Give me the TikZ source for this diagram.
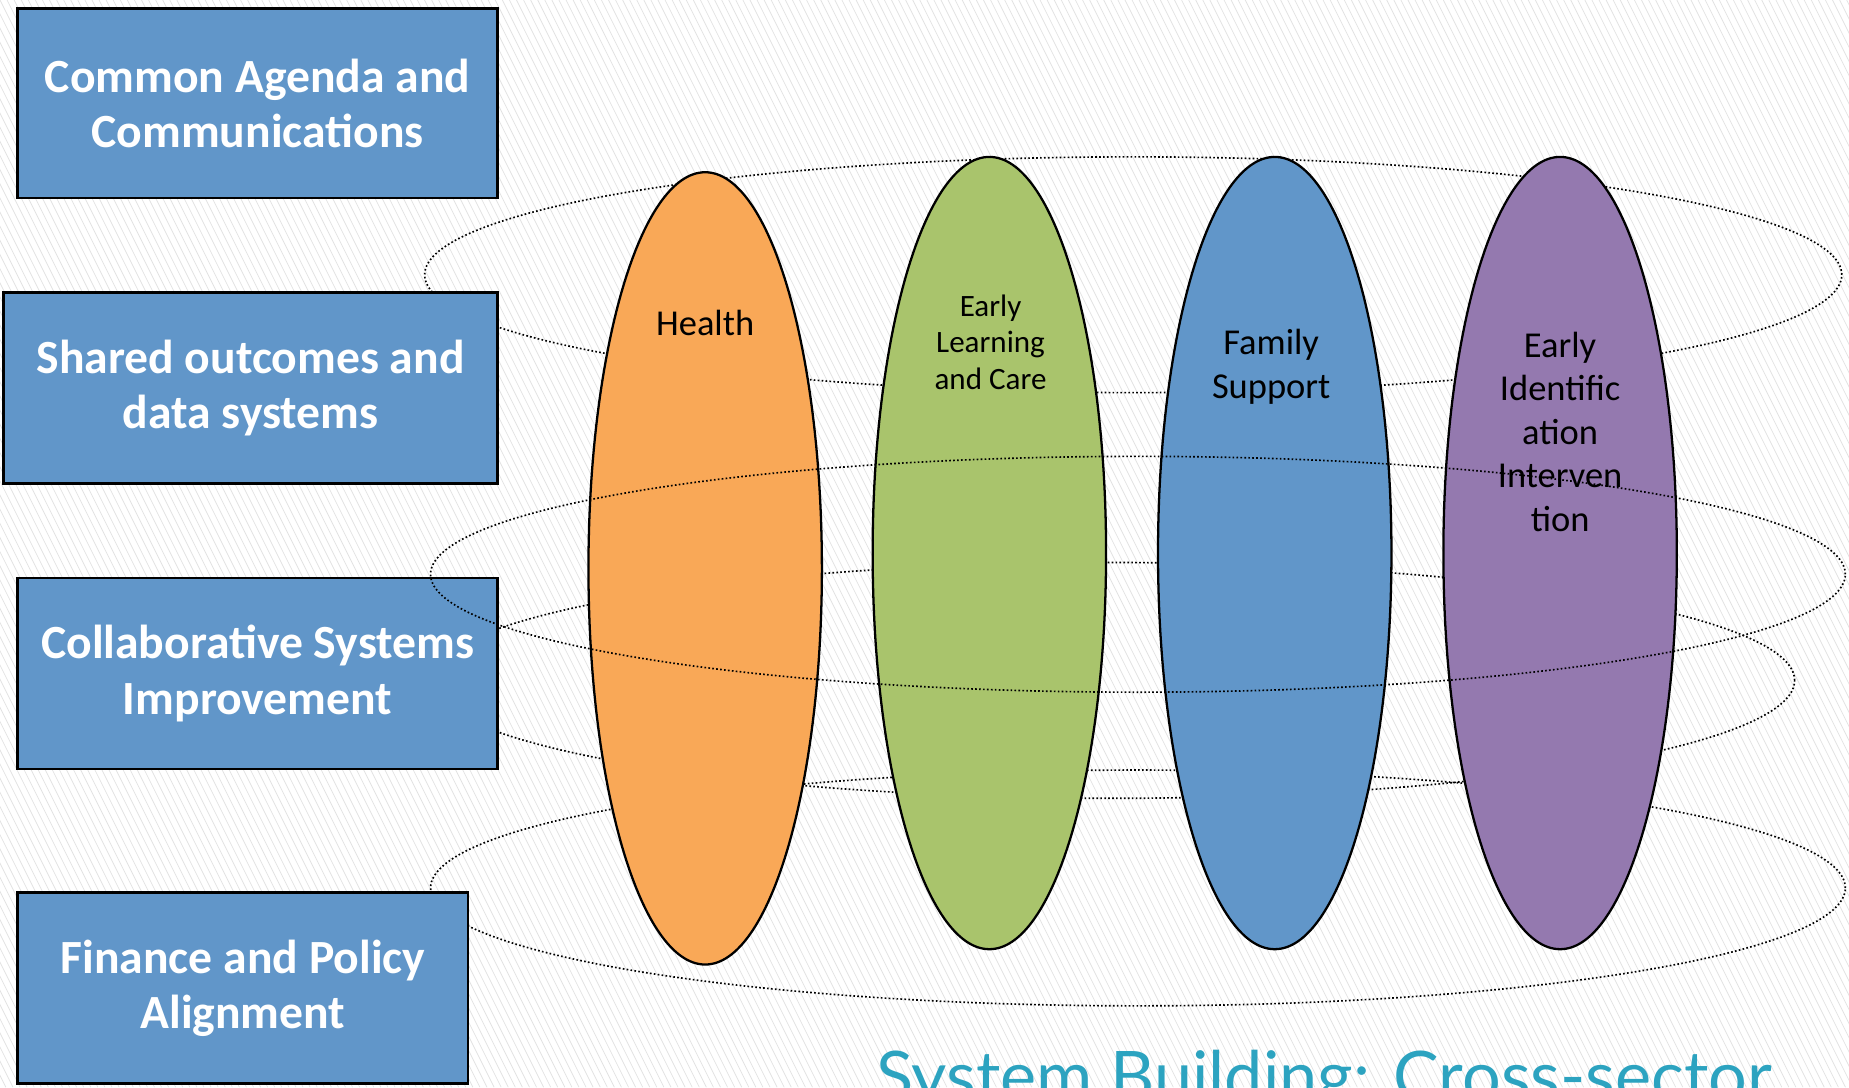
\documentclass[tikz,border=0pt]{standalone}
\usepackage{fontspec}
\setmainfont{Carlito}
\newfontfamily\titlefont{Lato}
\usetikzlibrary{shapes.geometric}
\definecolor{boxblue}{RGB}{97,150,201}
\definecolor{orangefill}{RGB}{249,168,87}
\definecolor{greenfill}{RGB}{169,196,108}
\definecolor{purplefill}{RGB}{148,121,175}
\definecolor{titleteal}{RGB}{44,163,192}
\definecolor{stripegray}{RGB}{226,226,226}
\tikzset{
  stripe/.style={draw=stripegray, line width=0.35pt},
  areabox/.style={draw=black, line width=1.2pt, fill=boxblue, text=white,
    font=\fontsize{23}{26.7}\selectfont\bfseries, align=center, inner sep=0pt},
  sector/.style={ellipse, draw=black, line width=1.1pt, inner sep=0pt,
    minimum width=3.96cm, minimum height=13.44cm},
  sectortext/.style={font=\fontsize{17.6}{21}\selectfont, align=center, text=black, inner sep=0pt},
  smallsectortext/.style={font=\fontsize{15}{17.6}\selectfont, align=center, text=black, inner sep=0pt},
  dotline/.style={draw=black, line width=0.8pt, dash pattern=on 0.8pt off 1.1pt},
}
\begin{document}
\begin{tikzpicture}[x=0.02cm, y=-0.02cm]
\useasboundingbox (0,0) rectangle (1568,922);
\clip (0,0) rectangle (1568,922);
\fill[white] (0,0) rectangle (1568,922);
\foreach \i in {-462,-456,...,1568} \draw[stripe] (\i,0) -- ++(461,922);

% dotted rings lying behind
\draw[dotline] (961,233) ellipse [x radius=12.02cm, y radius=2cm];
\draw[dotline] (943,577) ellipse [x radius=11.58cm, y radius=2cm];
\draw[dotline] (965,753) ellipse [x radius=12cm, y radius=2cm];

% left boxes
\node[areabox, minimum width=8.14cm, minimum height=3.22cm] (agenda) at (218.5,87.5)
  {Common Agenda and\\Communications};
\node[areabox, minimum width=8.38cm, minimum height=3.24cm] (outcomes) at (212.5,329)
  {Shared outcomes and\\data systems};
\node[areabox, minimum width=8.14cm, minimum height=3.24cm] (collab) at (218.5,571)
  {Collaborative Systems\\Improvement};
\node[areabox, minimum width=7.64cm, minimum height=3.24cm] (finance) at (206,838)
  {Finance and Policy\\Alignment};

% sector ellipses
\node[sector, fill=orangefill] (health) at (598,482) {};
\node[sector, fill=greenfill] (elc) at (839,469) {};
\node[sector, fill=boxblue] (family) at (1081,469) {};
\node[sector, fill=purplefill] (eii) at (1323,469) {};

\node[sectortext] (healthtxt) at (598,274) {Health};
\node[smallsectortext] (elctxt) at (840,290) {Early\\Learning\\and Care};
\node[sectortext] (familytxt) at (1078,311) {Family\\Support};
\node[sectortext] (eiitxt) at (1323,366) {Early\\Identific\\ation\\Interven\\tion};

% dotted ring lying in front
\draw[dotline] (965,487) ellipse [x radius=12cm, y radius=2cm];

% title (cut off at the bottom edge, as in the reference)
\node[anchor=base west, inner sep=0pt, text=titleteal,
  font=\titlefont\fontsize{33}{38}\selectfont] (title) at (743,933)
  {System Building: Cross-sector};
\end{tikzpicture}
\end{document}
